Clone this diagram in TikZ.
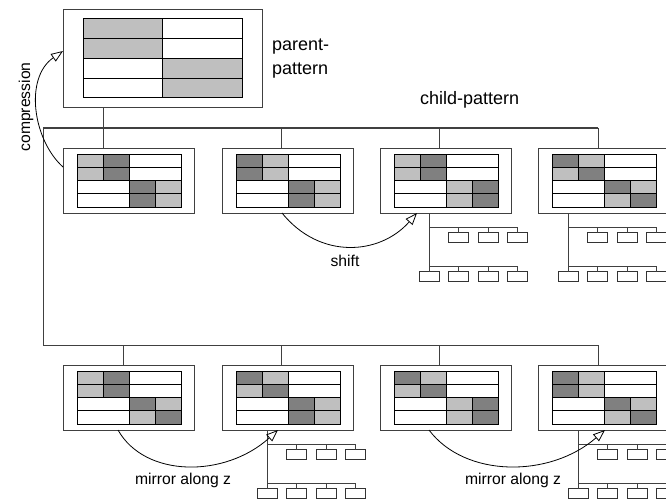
\documentclass[tikz,border=0pt]{standalone}
\usepackage{fontspec}
\setmainfont{Liberation Sans}
\usetikzlibrary{arrows.meta}
\colorlet{cL}{black!25}
\colorlet{cD}{black!50}
\tikzset{
  boxst/.style={draw=black!75,line width=1pt,fill=white,inner sep=0pt,outer sep=0pt},
  cboxst/.style={boxst,minimum width=131pt,minimum height=65pt},
  gridst/.style={draw=black,line width=1pt},
  busst/.style={draw=black!75,line width=1pt},
  leaf/.style={draw=black!80,line width=0.9pt,minimum width=20pt,minimum height=10pt,inner sep=0pt,outer sep=0pt},
  arr/.style={draw=black,line width=0.8pt,-{Triangle[open,length=12pt,width=9pt]}},
  ttl/.style={font=\fontsize{18}{21}\selectfont,inner sep=0pt},
  lbl/.style={font=\fontsize{15.7}{18}\selectfont,inner sep=0pt}
}
\newcommand\cbox[4]{%
  \node[cboxst] (#1) at ({#2+65.5},{#3+32.5}) {};
  \begin{scope}[shift={(#2+14,#3+6)}]
    \foreach \a/\b [count=\r from 0] in {#4} {
      \pgfmathsetmacro\xo{\r<2 ? 0 : 52}
      \fill[fill=c\a] (\xo,\r*13.25) rectangle ++(26,13.25);
      \fill[fill=c\b] (\xo+26,\r*13.25) rectangle ++(26,13.25);
    }
    \draw[gridst] (0,0) rectangle (104,53);
    \foreach \y in {13.25,26.5,39.75} \draw[gridst] (0,\y) -- (104,\y);
    \draw[gridst] (26,0) -- (26,26.5) (52,0) -- (52,53) (78,26.5) -- (78,53);
  \end{scope}
}
\newcommand\ctree[4]{%
  \coordinate (#1h1) at (#3,#4+14.5);
  \coordinate (#1h2) at (#3,#4+53.5);
  \foreach \k in {1,2,3} \node[leaf] (#1a\k) at (#3+\k*29.6,#4+24.5) {};
  \foreach \k in {0,...,3} \node[leaf] (#1b\k) at (#3+\k*29.6,#4+63.5) {};
  \draw[busst] (#2.south -| #1h1) -- (#1b0.north);
  \draw[busst] (#1h1) -- (#1h1 -| #1a3.north);
  \draw[busst] (#1h2) -- (#1h2 -| #1b3.north);
  \foreach \k in {1,2,3} \draw[busst] (#1a\k.north) -- (#1a\k.north |- #1h1) (#1b\k.north) -- (#1b\k.north |- #1h2);
}
\begin{document}
\begin{tikzpicture}[x=1pt,y=-1pt]
\useasboundingbox (0,0) rectangle (666,500);
\clip (0,0) rectangle (666,500);
% bus coordinates
\coordinate (bt) at (43,128);
\coordinate (bb) at (43,345);
\coordinate (t1) at (103,128);
\coordinate (t2) at (281,128);
\coordinate (t3) at (439,128);
\coordinate (t4) at (598,128);
\coordinate (u1) at (123,345);
\coordinate (u2) at (281,345);
\coordinate (u3) at (439,345);
\coordinate (u4) at (598,345);
% parent
\node[boxst,minimum width=199pt,minimum height=98pt] (P) at (162.5,59) {};
\fill[cL] (83,19) rectangle (162,59);
\fill[cL] (162,59) rectangle (242,98);
\draw[gridst] (83,19) rectangle (242,98);
\draw[gridst] (162,19) -- (162,98);
\foreach \y in {39,59,79} \draw[gridst] (83,\y) -- (242,\y);
\node[ttl,anchor=base west] (pt1) at (272,51) {parent-};
\node[ttl,anchor=base west] (pt2) at (272,75) {pattern};
\node[ttl,anchor=base west] (ct) at (420,105) {child-pattern};
% buses
\draw[busst] (P.south -| t1) -- (t1);
\draw[busst] (bt) -- (t4);
\draw[busst] (bt) -- (bb) -- (u4);
% children
\cbox{c1}{63}{148}{L/D,L/D,D/L,D/L}
\cbox{c2}{222}{148}{D/L,D/L,D/L,D/L}
\cbox{c3}{380}{148}{L/D,L/D,L/D,L/D}
\cbox{c4}{538}{148}{D/L,L/D,D/L,L/D}
\cbox{c5}{63}{365}{L/D,L/D,D/L,L/D}
\cbox{c6}{222}{365}{D/L,L/D,D/L,D/L}
\cbox{c7}{380}{365}{D/L,L/D,L/D,L/D}
\cbox{c8}{538}{365}{D/L,D/L,D/L,L/D}
\foreach \i in {1,...,4} \draw[busst] (t\i) -- (t\i |- c\i.north);
\foreach \i/\j in {1/5,2/6,3/7,4/8} \draw[busst] (u\i) -- (u\i |- c\j.north);
% trees
\ctree{ta}{c3}{429}{213}
\ctree{tb}{c4}{568}{213}
\ctree{tc}{c6}{267}{430}
\ctree{td}{c8}{578}{430}
% arrows
\draw[arr] ([yshift=13.5pt]c1.west) .. controls (33,140) and (24,78) .. ([yshift=8pt]P.west);
\node[lbl,rotate=90] (cmp) at (26,107) {compression};
\draw[arr] ([xshift=-5.5pt]c2.south) .. controls (320,260) and (380,255) .. ([xshift=-28.5pt]c3.south);
\node[lbl,anchor=base] (sh) at (345,266) {shift};
\draw[arr] ([xshift=-10.5pt]c5.south) .. controls (145,478) and (225,478) .. ([xshift=-9.5pt]c6.south);
\node[lbl,anchor=base] (m1) at (183,484) {mirror along z};
\draw[arr] ([xshift=-16.5pt]c7.south) .. controls (465,478) and (550,478) .. ([xshift=1.5pt]c8.south);
\node[lbl,anchor=base] (m2) at (513,484) {mirror along z};
\end{tikzpicture}
\end{document}
